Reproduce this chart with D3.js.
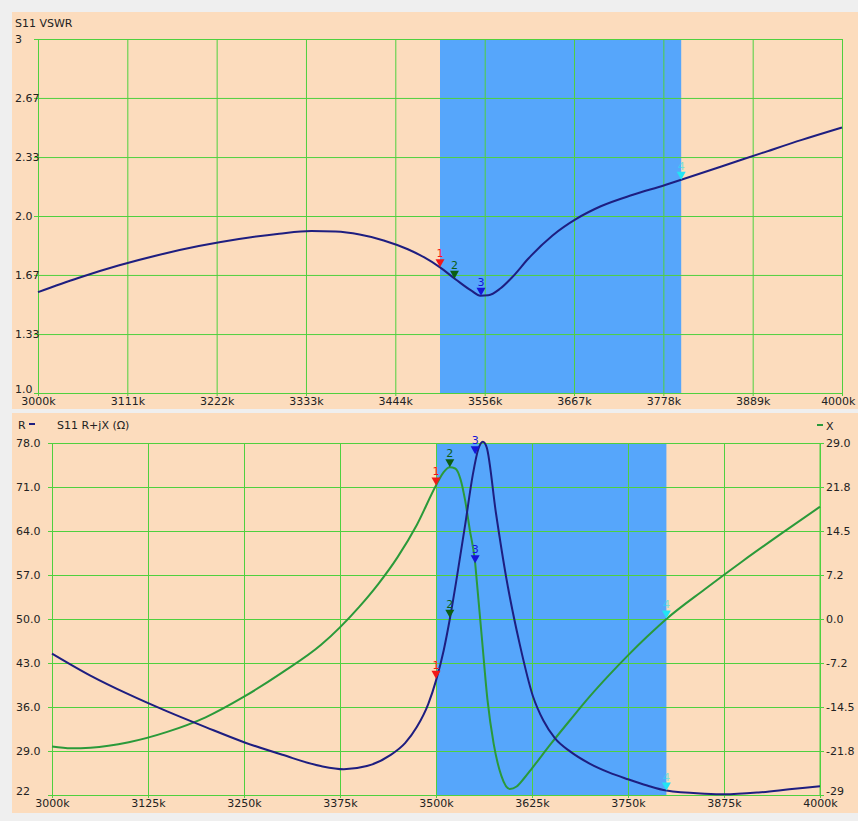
<!DOCTYPE html>
<html>
<head>
<meta charset="utf-8">
<script src="https://cdn.jsdelivr.net/npm/d3@7/dist/d3.min.js"></script>
<style>
  body { margin: 0; background: #efefef; }
  text { font-family: "DejaVu Sans", Tahoma, sans-serif; font-size: 11px; fill: #222; }
</style>
</head>
<body>
<svg id="chart" width="858" height="821"></svg>
<script>
// ---- data ----
var bandRange = [3500, 3800];

var vswrFreq = [3000,3050,3100,3150,3200,3250,3300,3340,3370,3400,3430,3460,3480,3500,3520,3540,3550,3560,3575,3590,3610,3640,3670,3700,3740,3780,3800,3850,3900,3950,4000];
var vswrVal  = [1.57,1.65,1.72,1.78,1.83,1.87,1.90,1.915,1.912,1.895,1.862,1.812,1.767,1.71,1.64,1.575,1.55,1.552,1.59,1.655,1.76,1.89,1.985,2.055,2.12,2.175,2.205,2.28,2.355,2.43,2.50];

var rFreq = [3000,3050,3100,3150,3200,3250,3300,3350,3380,3410,3440,3460,3475,3490,3500,3510,3518,3527,3538,3548,3555,3561,3566,3578,3592,3609,3626,3640,3655,3675,3700,3725,3750,3775,3800,3850,3875,3920,3960,4000];
var rVal  = [44.5,41.0,38.0,35.3,32.8,30.4,28.4,26.6,26.1,26.6,28.3,30.3,32.8,36.5,40.2,45.0,50.0,56.5,65.0,73.0,77.0,78.2,77.3,66.9,56.2,46.0,37.8,33.8,31.0,28.9,27.0,25.6,24.5,23.5,22.7,22.2,22.1,22.4,22.9,23.4];

var xFreq = [3000,3025,3050,3100,3150,3200,3250,3300,3350,3400,3425,3450,3475,3500,3510,3518,3525,3532,3538,3544,3551,3553,3560,3567,3575,3585,3596,3605,3615,3625,3650,3675,3700,3725,3750,3775,3800,3850,3900,3950,4000];
var xVal  = [-21.0,-21.3,-21.2,-20.3,-18.6,-16.2,-12.8,-8.8,-4.3,2.0,5.8,10.2,15.5,22.0,24.2,25.0,24.8,23.0,19.5,14.7,9.2,6.4,-3.5,-13.3,-20.5,-25.8,-28.0,-27.6,-26.2,-24.6,-20.5,-16.6,-12.8,-9.3,-6.0,-2.9,0.0,4.9,9.6,14.1,18.5];

var markerFreq   = [3500, 3518, 3551, 3800];
var markerNames  = ["1", "2", "3", "4"];
var markerColors = ["#f01818", "#0b5e14", "#1515d8", "#22e4f4"];
var markerVswr   = [1.71, 1.645, 1.55, 2.205];
var markerR      = [40.5, 50.2, 76.2, 22.7];
var markerX      = [22.0, 25.0, 9.2, 0.1];

var topXTicks  = [3000, 3111.1, 3222.2, 3333.3, 3444.4, 3555.6, 3666.7, 3777.8, 3888.9, 4000];
var topXLabels = ["3000k","3111k","3222k","3333k","3444k","3556k","3667k","3778k","3889k","4000k"];
var topYTicks  = [3, 2.667, 2.333, 2, 1.667, 1.333, 1];
var topYLabels = ["3","2.67","2.33","2.0","1.67","1.33","1.0"];

var botXTicks  = [3000,3125,3250,3375,3500,3625,3750,3875,4000];
var botXLabels = ["3000k","3125k","3250k","3375k","3500k","3625k","3750k","3875k","4000k"];
var rTicks     = [78,71,64,57,50,43,36,29,22];
var rLabels    = ["78.0","71.0","64.0","57.0","50.0","43.0","36.0","29.0","22"];
var xTicks     = [29,21.75,14.5,7.25,0,-7.25,-14.5,-21.75,-29];
var xLabels    = ["29.0","21.8","14.5","7.2","0.0","-7.2","-14.5","-21.8","-29"];

var peach = "#fcdcbd", band = "#56a6fb", grid = "#4fd03f", navy = "#1e1e80", green = "#2a9a3a";

var svg = d3.select("#chart");

function zip(f, v) { return f.map(function(d, i) { return [d, v[i]]; }); }

function panel(o) {
  svg.append("rect").attr("x", o.px).attr("y", o.py).attr("width", o.pw).attr("height", o.ph).attr("fill", peach);
  var x = o.x, y = o.y;
  var x0 = x.range()[0], x1 = x.range()[1], y0 = y.range()[0], y1 = y.range()[1];
  svg.append("rect")
    .attr("x", x(bandRange[0])).attr("y", y1)
    .attr("width", x(bandRange[1]) - x(bandRange[0])).attr("height", y0 - y1)
    .attr("fill", band);

  // vertical grid + x labels
  var gx = svg.append("g").attr("transform", "translate(0," + (y0 + 3) + ")")
    .call(d3.axisBottom(x).tickValues(o.xTicks).tickSize(-(y0 - y1 + 3)).tickPadding(1)
      .tickFormat(function(d, i) { return o.xLabels[i]; }));
  gx.select(".domain").remove();
  gx.selectAll("line").attr("stroke", grid).attr("stroke-width", 1);
  gx.selectAll("text").attr("fill", "#222");
  if (o.lastEnd) {
    gx.selectAll("text").filter(function(d, i) { return i === o.xTicks.length - 1; })
      .attr("text-anchor", "end").attr("x", o.lastEnd);
  }

  // horizontal grid + left labels
  var gy = svg.append("g").attr("transform", "translate(" + (x0 - 4) + ",0)")
    .call(d3.axisLeft(y).tickValues(o.yTicks).tickSize(-(x1 - x0 + 4))
      .tickFormat(function(d, i) { return o.yLabels[i]; }));
  gy.select(".domain").remove();
  gy.selectAll("line").attr("stroke", grid).attr("stroke-width", 1);
  gy.selectAll("text").attr("text-anchor", "start").attr("x", o.labelX - (x0 - 4)).attr("fill", "#222");
  gy.selectAll("text").filter(function(d, i) { return i === o.yTicks.length - 1; }).attr("dy", "-0.05em");
  return { x: x, y: y };
}

function curve(x, y, pts, color) {
  svg.append("path").datum(pts)
    .attr("fill", "none").attr("stroke", color).attr("stroke-width", 2)
    .attr("d", d3.line().x(function(d) { return x(d[0]); }).y(function(d) { return y(d[1]); }).curve(d3.curveMonotoneX));
}

function markers(x, y, vals) {
  markerFreq.forEach(function(f, i) {
    var g = svg.append("g").attr("transform", "translate(" + x(f) + "," + y(vals[i]) + ")");
    g.append("path").attr("d", "M0,0L-4.5,-8L4.5,-8Z").attr("fill", markerColors[i]);
    g.append("text").attr("y", -10).attr("text-anchor", "middle").style("font-size", "11px")
      .style("fill", markerColors[i]).attr("opacity", i === 3 ? 0.6 : 1).text(markerNames[i]);
  });
}

// ---- top: VSWR ----
var topPanel = panel({
  px: 12, py: 12, pw: 846, ph: 397,
  x: d3.scaleLinear().domain([3000, 4000]).range([38, 842]),
  y: d3.scaleLinear().domain([1, 3]).range([393, 39]),
  xTicks: topXTicks, xLabels: topXLabels, yTicks: topYTicks, yLabels: topYLabels, labelX: 15, lastEnd: 13
});
svg.append("text").attr("x", 15).attr("y", 27).text("S11 VSWR");
curve(topPanel.x, topPanel.y, zip(vswrFreq, vswrVal), navy);
markers(topPanel.x, topPanel.y, markerVswr);

// ---- bottom: R + jX ----
var botPanel = panel({
  px: 12, py: 413, pw: 846, ph: 400,
  x: d3.scaleLinear().domain([3000, 4000]).range([52, 820]),
  y: d3.scaleLinear().domain([22, 78]).range([795, 443]),
  xTicks: botXTicks, xLabels: botXLabels, yTicks: rTicks, yLabels: rLabels, labelX: 16
});
var yX = d3.scaleLinear().domain([-29, 29]).range([795, 443]);
var gr = svg.append("g").attr("transform", "translate(820,0)")
  .call(d3.axisRight(yX).tickValues(xTicks).tickSize(4).tickPadding(2)
    .tickFormat(function(d, i) { return xLabels[i]; }));
gr.select(".domain").attr("stroke", grid).attr("d", "M0,443V795");
gr.selectAll("line").attr("stroke", grid);
gr.selectAll("text").attr("fill", "#222");
gr.selectAll("text").filter(function(d, i) { return i === xTicks.length - 1; }).attr("dy", "-0.05em");

svg.append("text").attr("x", 18).attr("y", 429).text("R");
svg.append("rect").attr("x", 29).attr("y", 423).attr("width", 6).attr("height", 2).attr("fill", navy);
svg.append("text").attr("x", 57).attr("y", 429).text("S11 R+jX (\u03a9)");
svg.append("rect").attr("x", 817).attr("y", 424).attr("width", 6).attr("height", 2).attr("fill", green);
svg.append("text").attr("x", 826).attr("y", 430).text("X");

curve(botPanel.x, yX, zip(xFreq, xVal), green);
curve(botPanel.x, botPanel.y, zip(rFreq, rVal), navy);
markers(botPanel.x, botPanel.y, markerR);
markers(botPanel.x, yX, markerX);
</script>
</body>
</html>
